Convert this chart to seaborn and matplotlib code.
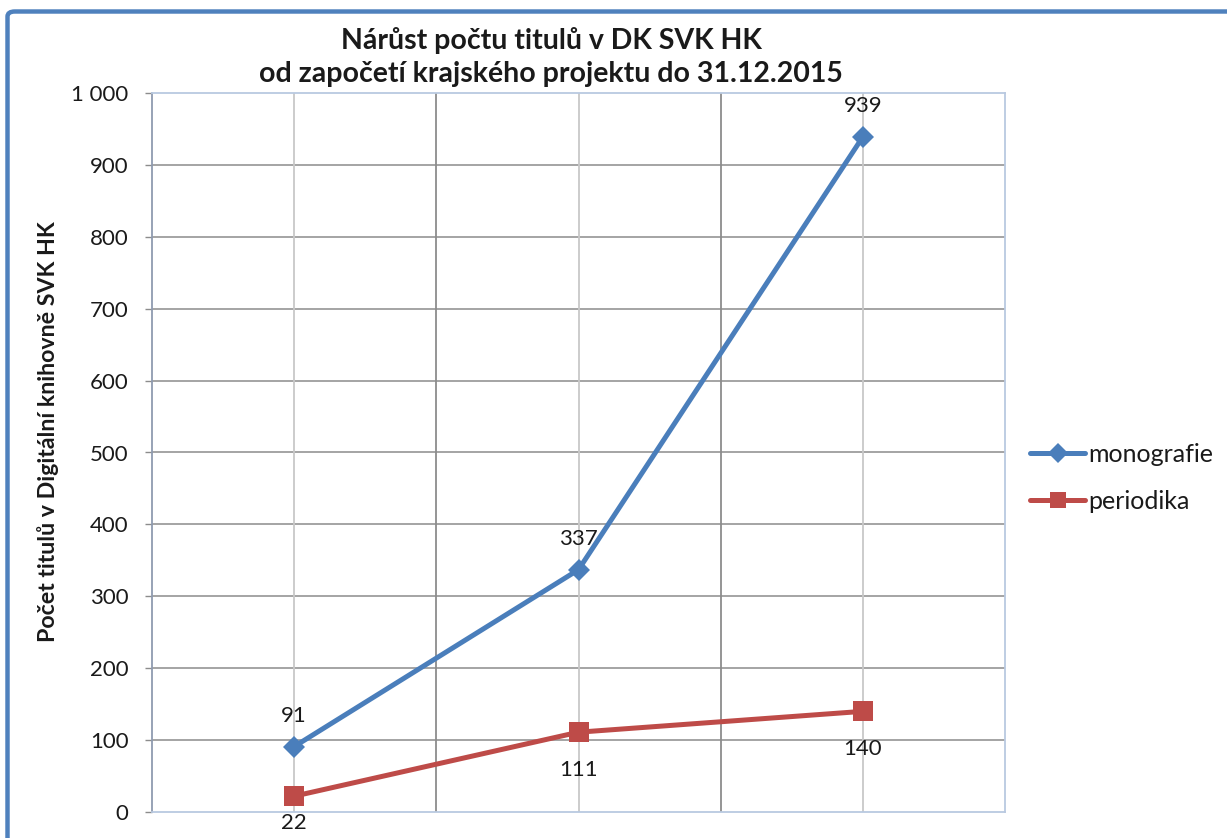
import matplotlib
matplotlib.use("Agg")
import matplotlib.pyplot as plt
import seaborn as sns
import pandas as pd
from matplotlib.patches import FancyBboxPatch
from matplotlib.ticker import FuncFormatter
from matplotlib.lines import Line2D

# Data
categories = ["1", "2", "3"]  # category labels are not visible in the reference
series_names = ["monografie", "periodika"]
monografie = [91, 337, 939]
periodika = [22, 111, 140]
y_ticks = [0, 100, 200, 300, 400, 500, 600, 700, 800, 900, 1000]

title = "Nárůst počtu titulů v DK SVK HK\nod započetí krajského projektu do 31.12.2015"
ylabel = "Počet titulů v Digitální knihovně SVK HK"

sns.set_theme(style="white")
plt.rcParams["font.family"] = ["Lato", "DejaVu Sans"]

pos = [2 * i + 1 for i in range(len(categories))]
df = pd.DataFrame({
    "x": pos * 2,
    "value": monografie + periodika,
    "series": [series_names[0]] * 3 + [series_names[1]] * 3,
})

colors = {"monografie": "#4a7ebb", "periodika": "#be4b48"}

fig = plt.figure(figsize=(12.27, 8.38), dpi=100)
ax = fig.add_axes([152 / 1227, (838 - 812) / 838, (1005 - 152) / 1227, (812 - 93) / 838])

sns.lineplot(data=df, x="x", y="value", hue="series", style="series",
             markers={"monografie": "D", "periodika": "s"}, dashes=False,
             palette=colors, linewidth=3.6, markersize=11, markeredgewidth=0,
             ax=ax, zorder=3, legend=False)
for line in ax.lines:
    if line.get_marker() == "s":
        line.set_markersize(15)
    elif line.get_marker() == "D":
        line.set_markersize(11.5)

ax.set_xlim(0, 6)
ax.set_ylim(0, 1000)
ax.set_yticks(y_ticks)
ax.yaxis.set_major_formatter(FuncFormatter(lambda v, p: f"{int(v):,}".replace(",", " ")))
ax.set_xticks([])

# gridlines
for yv in y_ticks[1:-1]:
    ax.axhline(yv, color="#8c8c8c", lw=1.1, zorder=1)
for xv in range(1, 6):
    c = "#c8c8c8" if xv % 2 == 1 else "#8c8c8c"
    ax.axvline(xv, color=c, lw=1.3, zorder=1)

for s in ["top", "right", "bottom"]:
    ax.spines[s].set_color("#b9c9e0")
    ax.spines[s].set_linewidth(1.3)
ax.spines["left"].set_color("#8f9bb0")
ax.spines["left"].set_linewidth(1.3)

ax.tick_params(axis="y", which="major", left=True, length=5, width=1, color="#8c8c8c",
               pad=12, labelsize=16, labelcolor="#1a1a1a")

ax.set_xlabel("")
ax.set_ylabel(ylabel, fontsize=16.7, fontweight="bold", color="#1a1a1a")
ax.yaxis.set_label_coords((59 - 152) / 853, (812 - 432) / 719)

# data labels
for x, v in zip(pos, monografie):
    ax.annotate(str(v), (x, v), xytext=(0, 15), textcoords="offset points",
                ha="center", va="bottom", fontsize=16, color="#1a1a1a")
for x, v in zip(pos, periodika):
    dy = -12 if v < 50 else -20  # keep the lowest label inside the figure
    ax.annotate(str(v), (x, v), xytext=(0, dy), textcoords="offset points",
                ha="center", va="top", fontsize=16, color="#1a1a1a", clip_on=False)

fig.text(551 / 1227, 1 - 57 / 838, title, ha="center", va="center", fontsize=20.5,
         fontweight="bold", color="#1a1a1a", linespacing=1.3)

# legend
handles = [
    Line2D([], [], color=colors["monografie"], lw=3.6, marker="D", markersize=10, markeredgewidth=0),
    Line2D([], [], color=colors["periodika"], lw=3.6, marker="s", markersize=12, markeredgewidth=0),
]
leg = ax.legend(handles, series_names, loc="center left",
                bbox_to_anchor=((1030 - 152) / 853, (812 - 478) / 719),
                frameon=False, fontsize=18, handlelength=2.2, handletextpad=0.12,
                labelspacing=0.95, borderaxespad=0, borderpad=0)
for t in leg.get_texts():
    t.set_color("#1a1a1a")

# outer blue border
border = FancyBboxPatch((7.5 / 1227, -0.2), 1.2, 1.2 - 11.5 / 838,
                        boxstyle="round,pad=0,rounding_size=0.006",
                        transform=fig.transFigure, fill=False,
                        edgecolor="#4f81bd", linewidth=3.2, clip_on=False)
fig.patches.append(border)

fig.savefig("out.png", dpi=100)
